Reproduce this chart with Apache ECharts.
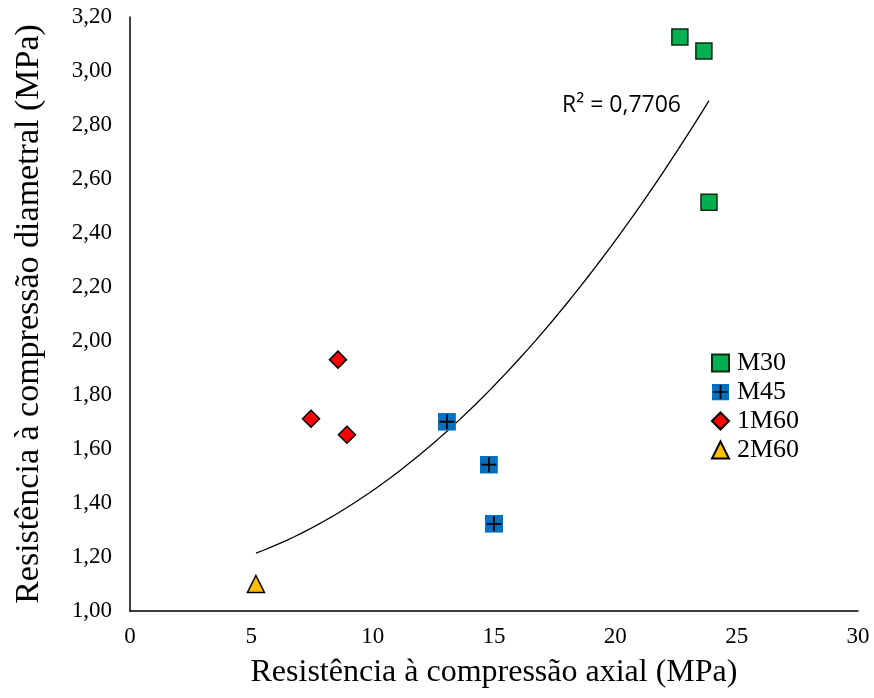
<!DOCTYPE html>
<html><head><meta charset="utf-8">
<script src="https://cdn.jsdelivr.net/npm/echarts@6/dist/echarts.min.js"></script>
<style>html,body{margin:0;padding:0;background:#fff}#c{width:874px;height:698px}</style>
</head><body><div id="c"></div>
<script>
const m30X=[22.66,23.65,23.86], m30Y=[3.126,3.074,2.514];
const m45X=[13.06,14.79,15.0], m45Y=[1.701,1.542,1.323];
const m60aX=[8.57,7.46,8.94], m60aY=[1.931,1.712,1.653];
const m60bX=[5.19], m60bY=[1.10];
const xTicks=[0,5,10,15,20,25,30];
const yTicks=[1.0,1.2,1.4,1.6,1.8,2.0,2.2,2.4,2.6,2.8,3.0,3.2];
// polynomial (order 2) trendline coefficients: c0 + c1 x + c2 x^2
const trendCoef=[1.1196,0.00267,0.002998];
const r2Label='R² = 0,7706';

const zip=(a,b)=>a.map((v,i)=>[v,b[i]]);
const allX=[...m30X,...m45X,...m60aX,...m60bX];
const fit=x=>trendCoef[0]+trendCoef[1]*x+trendCoef[2]*x*x;
const xmin=Math.min(...allX), xmax=Math.max(...allX);
const trend=[];for(let i=0;i<=60;i++){const x=xmin+(xmax-xmin)*i/60;trend.push([x,fit(x)]);}

const plusSvg='image://data:image/svg+xml;utf8,'+encodeURIComponent('<svg xmlns="http://www.w3.org/2000/svg" width="18" height="18"><rect x="0" y="0" width="18" height="18" fill="#0070C0"/><path d="M9 1.5V16.5M1.5 9H16.5" stroke="#000" stroke-width="1.8"/></svg>');
const serif='"Liberation Serif","Times New Roman",serif';
const chart=echarts.init(document.getElementById('c'),null,{renderer:'canvas'});
chart.setOption({
 animation:false,
 grid:{left:130,right:16,top:17,bottom:87,containLabel:false},
 xAxis:{type:'value',min:0,max:30,interval:5,
   axisLine:{lineStyle:{color:'#000',width:1.5}},axisTick:{show:false},splitLine:{show:false},
   axisLabel:{color:'#000',fontFamily:serif,fontSize:23,margin:14,formatter:v=>xTicks.includes(v)?String(v):''},
   name:'Resistência à compressão axial (MPa)',nameLocation:'middle',nameGap:46,
   nameTextStyle:{color:'#000',fontFamily:serif,fontSize:32}},
 yAxis:{type:'value',min:1.0,max:3.2,interval:0.2,
   axisLine:{show:true,lineStyle:{color:'#000',width:1.5}},axisTick:{show:false},splitLine:{show:false},
   axisLabel:{color:'#000',fontFamily:serif,fontSize:23,margin:18,formatter:v=>v.toFixed(2).replace('.',',')},
   name:'Resistência à compressão diametral (MPa)',nameLocation:'middle',nameGap:84,
   nameTextStyle:{color:'#000',fontFamily:serif,fontSize:34}},
 legend:{orient:'vertical',left:706,top:345,itemWidth:17,itemHeight:17,itemGap:3,
   textStyle:{color:'#000',fontFamily:serif,fontSize:26,padding:[0,0,0,3]},
   data:['M30','M45','1M60','2M60']},
 graphic:[{type:'text',left:562,top:94,style:{text:r2Label,fill:'#000',font:'23px "Open Sans","Liberation Sans",sans-serif'}}],
 series:[
  {name:'trend',type:'line',data:trend,showSymbol:false,symbol:'none',lineStyle:{color:'#000',width:1.3},silent:true,z:1},
  {name:'M30',type:'scatter',data:zip(m30X,m30Y),symbol:'rect',symbolSize:16,itemStyle:{color:'#00B050',opacity:1,borderColor:'#0d2a12',borderWidth:1.5},z:3},
  {name:'M45',type:'scatter',data:zip(m45X,m45Y),symbol:plusSvg,symbolSize:18,itemStyle:{opacity:1},z:3},
  {name:'1M60',type:'scatter',data:zip(m60aX,m60aY),symbol:'diamond',symbolSize:[17,17],itemStyle:{color:'#FF0000',opacity:1,borderColor:'#000',borderWidth:1.5},z:3},
  {name:'2M60',type:'scatter',data:zip(m60bX,m60bY),symbol:'triangle',symbolSize:[17,17],itemStyle:{color:'#FFC000',opacity:1,borderColor:'#000',borderWidth:1.5},z:3}
 ]
});
</script></body></html>
